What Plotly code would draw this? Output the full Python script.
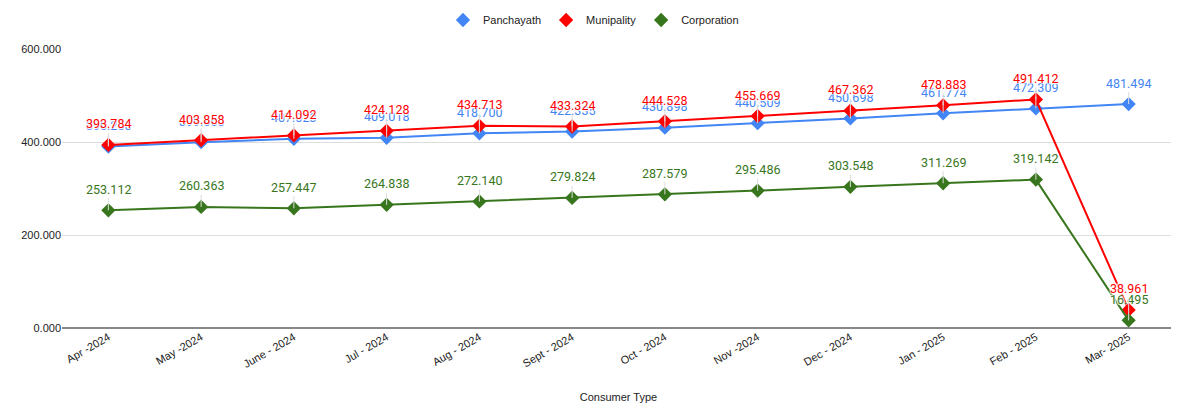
import plotly.graph_objects as go

months = ["Apr -2024", "May -2024", "June - 2024", "Jul - 2024", "Aug - 2024", "Sept - 2024",
          "Oct - 2024", "Nov -2024", "Dec - 2024", "Jan - 2025", "Feb - 2025", "Mar- 2025"]
panchayath = [390.2, 399.6, 407.023, 409.018, 418.700, 422.335, 430.898, 440.509, 450.698, 461.774, 472.309, 481.494]
munipality = [393.784, 403.858, 414.092, 424.128, 434.713, 433.324, 444.528, 455.669, 467.362, 478.883, 491.412, 38.961]
corporation = [253.112, 260.363, 257.447, 264.838, 272.140, 279.824, 287.579, 295.486, 303.548, 311.269, 319.142, 16.495]

series = [("Panchayath", panchayath, "#4285F4"),
          ("Munipality", munipality, "#FF0000"),
          ("Corporation", corporation, "#38761D")]

fig = go.Figure()
ann = {}
for name, vals, col in series:
    fig.add_trace(go.Scatter(x=months, y=vals, name=name, mode="lines+markers", showlegend=False,
                             line=dict(color=col, width=2),
                             marker=dict(symbol="diamond", size=11, color=col)))
    ann[name] = [dict(x=m, y=v, xref="x", yref="y", text=f"{v:.3f}",
                      showarrow=True, arrowhead=0, arrowwidth=1, arrowcolor="#dddddd",
                      ax=0, ay=-21, standoff=0,
                      font=dict(family="Roboto", size=12.5, color=col,
                                shadow="1px 1px 1px white, -1px -1px 1px white, 1px -1px 1px white, -1px 1px 1px white"))
                 for m, v in zip(months, vals)]
for name, vals, col in series:
    fig.add_trace(go.Scatter(x=[months[0]], y=[None], name=name, mode="markers",
                             marker=dict(symbol="diamond", size=11, color=col)))

order = ann["Panchayath"] + ann["Corporation"] + ann["Munipality"]

fig.update_layout(
    width=1171, height=400,
    margin=dict(l=54, r=4, t=41, b=80, autoexpand=False),
    paper_bgcolor="white", plot_bgcolor="white",
    font=dict(family="Arial, Liberation Sans", size=11, color="#222222"),
    legend=dict(orientation="h", x=0.5, xanchor="center", xref="container",
                y=0.97, yanchor="middle", yref="container",
                font=dict(size=11, color="#222222"), itemwidth=30),
    annotations=order,
    xaxis=dict(type="category", range=[-0.5, 11.5], tickangle=-30, showgrid=False, automargin=False,
               ticks="", title=dict(text="Consumer Type", font=dict(size=11, color="#222222"), standoff=24),
               tickfont=dict(size=11, color="#222222")),
    yaxis=dict(range=[0, 600], tickvals=[0, 200, 400, 600], tickformat=".3f", automargin=False,
               gridcolor="#dddddd", gridwidth=1, zeroline=True, zerolinecolor="#888888",
               zerolinewidth=1.5, ticks="", tickfont=dict(size=11, color="#222222")),
)
fig.write_html("out.html")
